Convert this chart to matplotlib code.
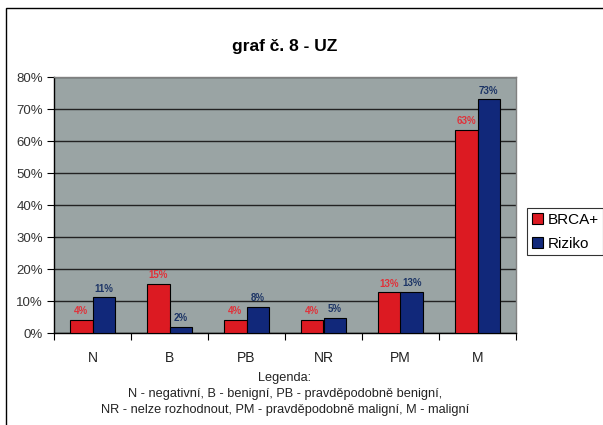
import matplotlib
matplotlib.use("Agg")
import matplotlib.pyplot as plt
from matplotlib.patches import Rectangle
from matplotlib.ticker import FixedLocator, PercentFormatter
import numpy as np

plt.rcParams['font.family'] = ['Liberation Sans', 'DejaVu Sans']

categories = ["N", "B", "PB", "NR", "PM", "M"]
brca = [4.2, 15.4, 4.2, 4.2, 12.7, 63.4]
riziko = [11.1, 1.8, 8.1, 4.8, 12.8, 73.0]
series_names = ["BRCA+", "Riziko"]
title = "graf č. 8 - UZ"
note = ("Legenda:\n"
        "N - negativní, B - benigní, PB - pravděpodobně benigní,\n"
        "NR - nelze rozhodnout, PM - pravděpodobně maligní, M - maligní")

W, H = 603, 425
fig = plt.figure(figsize=(W / 100, H / 100), dpi=100)
fig.patch.set_facecolor("white")

# outer chart frame (left and top edges visible)
fig.add_artist(Rectangle((6 / W, -0.1), 1.2, (H - 8) / H + 0.1, transform=fig.transFigure,
                         fill=False, edgecolor="black", linewidth=1.0))

left, right, top, bottom = 54, 516, 77, 333
ax = fig.add_axes([left / W, 1 - bottom / H, (right - left) / W, (bottom - top) / H])
ax.set_facecolor("#9aa4a4")

red = "#dc1a22"
blue = "#11287a"
x = np.arange(len(categories))
bw = 0.29
ax.bar(x - bw / 2, brca, bw, color=red, edgecolor="black", linewidth=0.8, zorder=3, label=series_names[0])
ax.bar(x + bw / 2, riziko, bw, color=blue, edgecolor="black", linewidth=0.8, zorder=3, label=series_names[1])

for xi, v in zip(x, brca):
    ax.text(xi - bw / 2, v + 1.2, f"{v:.0f}%", ha="center", va="bottom", color="#e0323a",
            fontsize=7, fontweight="bold", zorder=4)
for xi, v in zip(x, riziko):
    ax.text(xi + bw / 2, v + 1.2, f"{v:.0f}%", ha="center", va="bottom", color="#1d3566",
            fontsize=7, fontweight="bold", zorder=4)

ax.set_xlim(-0.5, len(categories) - 0.5)
ax.set_ylim(0, 80)
ax.yaxis.set_major_locator(FixedLocator(np.arange(0, 81, 10)))
ax.yaxis.set_major_formatter(PercentFormatter(decimals=0))
ax.grid(axis="y", color="#222222", linewidth=1.0, zorder=1)
ax.set_axisbelow(True)

# category ticks: labels centred, tick marks on boundaries
ax.set_xticks(x)
ax.set_xticklabels(categories)
ax.tick_params(axis="x", length=0, pad=13, labelsize=10, labelcolor="#222222")
ax.set_xticks(np.arange(-0.5, len(categories)), minor=True)
ax.tick_params(axis="x", which="minor", length=5, width=0.8, color="black", direction="out")
ax.tick_params(axis="y", length=5, width=0.8, direction="out", labelsize=9.5, labelcolor="#333333", pad=3)

for side in ["top", "right"]:
    ax.spines[side].set_color("#808080")
    ax.spines[side].set_linewidth(1.0)
for side in ["left", "bottom"]:
    ax.spines[side].set_color("black")
    ax.spines[side].set_linewidth(1.0)

fig.text((left + right) / 2 / W, 1 - 46 / H, title, ha="center", va="center",
         fontsize=12.5, fontweight="bold")
fig.text((left + right) / 2 / W, 1 - 394 / H, note, ha="center", va="center",
         fontsize=9.2, color="#222222", linespacing=1.42)

leg = ax.legend(loc="upper left", bbox_to_anchor=(527 / W, 1 - 208 / H), bbox_transform=fig.transFigure,
                frameon=True, fancybox=False, edgecolor="black", fontsize=11,
                handlelength=0.75, handleheight=0.75, handletextpad=0.3, borderpad=0.3,
                labelspacing=0.65, borderaxespad=0)
leg.get_frame().set_linewidth(0.8)

fig.savefig("out.png", dpi=100)
